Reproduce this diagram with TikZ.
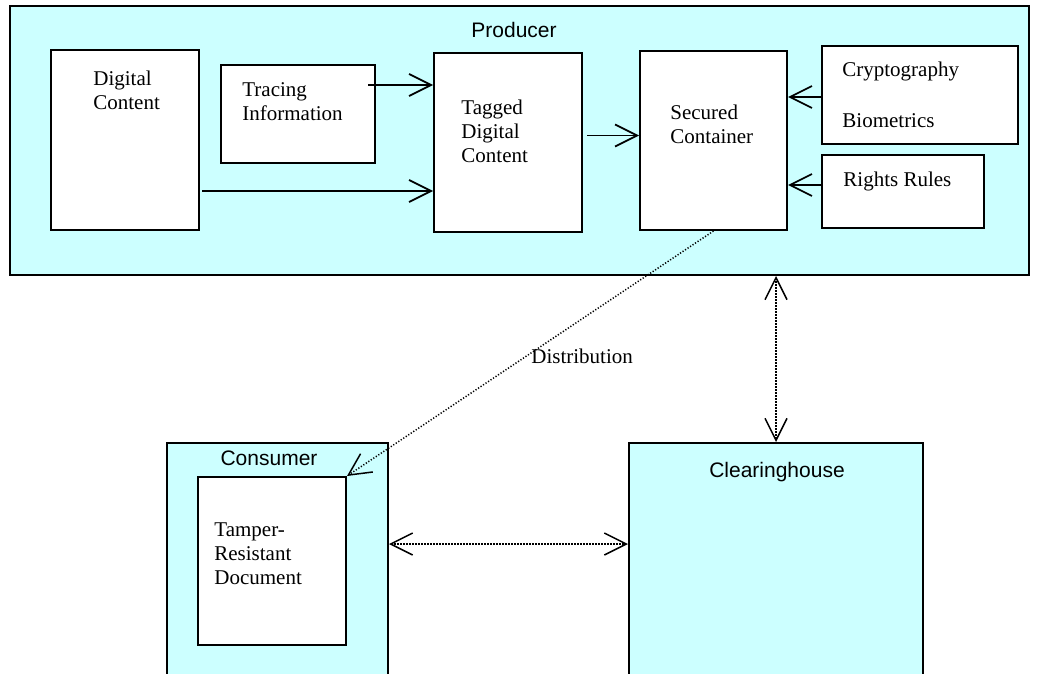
\documentclass[tikz,border=0pt]{standalone}
\usepackage{fontspec}
\setmainfont{Liberation Serif}
\newfontfamily\arialfont{Liberation Sans}
\usetikzlibrary{arrows.meta,fit}
\definecolor{paleblue}{RGB}{204,255,255}

\begin{document}
\begin{tikzpicture}[x=0.5pt, y=-0.5pt, >={Straight Barb[length=11pt,width=11pt]}]
 \tikzset{
  area/.style={draw, line width=1pt, fill=paleblue, inner sep=0pt},
  blk/.style={draw, line width=1pt, fill=white, inner sep=0pt},
  txt/.style={anchor=north west, inner sep=0pt, align=left, font=\fontsize{10.5}{12}\selectfont},
  ttl/.style={inner sep=0pt, font=\arialfont\fontsize{10.5}{12}\selectfont},
  con/.style={->, line width=0.85pt},
  dots/.style={line width=0.75pt, dash pattern=on 0.6pt off 0.9pt}
 }
 \useasboundingbox (0,0) rectangle (1039,674);
 \clip (0,0) rectangle (1039,674);

 % the three parties
 \node [area, fit={(10,6) (1029,275)}] (prod) {};
 \node [area, fit={(167,443) (388,690)}] (cons) {};
 \node [area, fit={(629,443) (923,690)}] (clear) {};
 \node [ttl] (prodname) at (514,30) {Producer};
 \node [ttl] (consname) at (269,458) {Consumer};
 \node [ttl] (clearname) at (777,472) {Clearinghouse};

 % inner boxes
 \node [blk, fit={(51,50) (199,230)}] (dc) {};
 \node [blk, fit={(221,65) (375,163)}] (trace) {};
 \node [blk, fit={(434,53) (582,232)}] (tagged) {};
 \node [blk, fit={(640,51) (787,230)}] (secured) {};
 \node [blk, fit={(822,46) (1018,144)}] (crypto) {};
 \node [blk, fit={(822,155) (984,228)}] (rights) {};
 \node [blk, fit={(198,477) (346,645)}] (doc) {};

 \node [txt] (dctext) at (93,71) {Digital\\Content};
 \node [txt] (tracetext) at (242,82) {Tracing\\Information};
 \node [txt] (taggedtext) at (461,100) {Tagged\\Digital\\Content};
 \node [txt] (securedtext) at (670,105) {Secured\\Container};
 \node [txt] (cryptotext) at (842,62) {Cryptography\\[13.5pt]Biometrics};
 \node [txt] (rightstext) at (843,172) {Rights Rules};
 \node [txt] (doctext) at (214,522) {Tamper-\\Resistant\\Document};

 % flows inside the producer
 \draw [con] ([xshift=-4pt,yshift=14.5pt]trace.east) -- ([yshift=14.5pt]trace.east -| tagged.west);
 \draw [con] ([xshift=1pt,yshift=-25.5pt]dc.east) -- ([yshift=-25.5pt]dc.east -| tagged.west);
 \draw [con] ([xshift=2pt,yshift=3.5pt]tagged.east) -- ([yshift=3.5pt]tagged.east -| secured.west);
 \draw [con] ([yshift=-1pt]crypto.west) -- ([yshift=-1pt]crypto.west -| secured.east);
 \draw [con] ([yshift=3.25pt]rights.west) -- ([yshift=3.25pt]rights.west -| secured.east);

 % between the parties
 \draw [dots, ->] (secured.south) -- (doc.north east)
   node [pos=0.51, anchor=west, inner sep=2pt, font=\fontsize{10.5}{12}\selectfont] (distlabel) {Distribution};
 \draw [dots, <->] (clear.north |- prod.south) -- (clear.north);
 \draw [dots, <->] ([yshift=11.25pt]cons.east) -- ([yshift=11.25pt]cons.east -| clear.west);
\end{tikzpicture}
\end{document}
